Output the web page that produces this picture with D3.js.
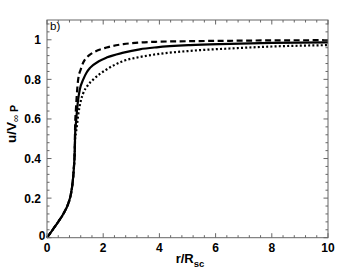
<!DOCTYPE html>
<html><head><meta charset="utf-8">
<script src="https://cdn.jsdelivr.net/npm/d3@7"></script>
<style>body{margin:0;background:#fff;} svg{display:block;}</style>
</head><body>
<script>
// r/R_sc values
const rSolid   = [0, 0.2, 0.4, 0.6, 0.75, 0.85, 0.92, 0.96, 0.99, 1.0, 1.03, 1.06, 1.11, 1.17, 1.29, 1.41, 1.53, 1.83, 2.12, 2.72, 3.3, 3.9, 5.09, 6.5, 8, 10];
const uSolid   = [0, 0.04, 0.08, 0.125, 0.17, 0.22, 0.29, 0.36, 0.45, 0.52, 0.58, 0.63, 0.7, 0.75, 0.8, 0.835, 0.858, 0.89, 0.91, 0.935, 0.952, 0.962, 0.973, 0.979, 0.984, 0.987];
const rDashed  = [0, 0.2, 0.4, 0.6, 0.75, 0.85, 0.92, 0.96, 0.99, 1.0, 1.03, 1.06, 1.11, 1.2, 1.29, 1.41, 1.53, 1.65, 2.12, 2.72, 3.3, 3.9, 5.09, 6.5, 8, 10];
const uDashed  = [0, 0.04, 0.08, 0.125, 0.17, 0.22, 0.29, 0.36, 0.46, 0.56, 0.65, 0.72, 0.8, 0.85, 0.885, 0.91, 0.925, 0.936, 0.961, 0.978, 0.986, 0.99, 0.993, 0.995, 0.997, 0.998];
const rDotted  = [0, 0.2, 0.4, 0.6, 0.75, 0.85, 0.92, 0.96, 0.99, 1.0, 1.03, 1.06, 1.11, 1.2, 1.29, 1.45, 1.65, 2.12, 2.72, 3.3, 3.9, 5.09, 6.5, 8, 10];
const uDotted  = [0, 0.04, 0.08, 0.125, 0.17, 0.22, 0.29, 0.36, 0.44, 0.5, 0.53, 0.56, 0.62, 0.69, 0.73, 0.77, 0.80, 0.85, 0.893, 0.913, 0.927, 0.944, 0.956, 0.966, 0.973];
const xTicks = [0, 2, 4, 6, 8, 10];
const yTicks = [0, 0.2, 0.4, 0.6, 0.8, 1];
const yTickLabels = ["0", "0.2", "0.4", "0.6", "0.8", "1"];

const W = 363, H = 273;
const m = {left: 47, right: 35, top: 20, bottom: 35.3};
const svg = d3.select("body").append("svg").attr("width", W).attr("height", H);
const x = d3.scaleLinear().domain([0, 10]).range([m.left, W - m.right]);
const y = d3.scaleLinear().domain([0, 1.1]).range([H - m.bottom, m.top]);
const font = "Liberation Sans, Arial, Helvetica, sans-serif";

const line = d3.line().x(d => x(d[0])).y(d => y(d[1])).curve(d3.curveMonotoneX);
const series = [
  {r: rSolid, u: uSolid, dash: null},
  {r: rDashed, u: uDashed, dash: "6,3.5"},
  {r: rDotted, u: uDotted, dash: "2,2.2"}
];
series.forEach(s => {
  svg.append("path").datum(s.r.map((v, i) => [v, s.u[i]]))
    .attr("d", line).attr("fill", "none").attr("stroke", "#000")
    .attr("stroke-width", 2.2).attr("stroke-dasharray", s.dash);
});

// frame
const frameColor = "#666";
svg.append("rect").attr("x", x(0)).attr("y", y(1.1)).attr("width", x(10) - x(0)).attr("height", y(0) - y(1.1))
  .attr("fill", "none").attr("stroke", frameColor).attr("stroke-width", 1);

const xMinor = d3.range(0, 10.001, 0.4);
const yMinor = d3.range(0, 1.1001, 0.04);
const g = svg.append("g").attr("stroke", frameColor).attr("stroke-width", 1);
xMinor.forEach(v => {
  const major = xTicks.some(t => Math.abs(t - v) < 1e-6);
  const L = major ? 4.5 : 2.5;
  g.append("line").attr("x1", x(v)).attr("x2", x(v)).attr("y1", y(0)).attr("y2", y(0) - L);
  g.append("line").attr("x1", x(v)).attr("x2", x(v)).attr("y1", y(1.1)).attr("y2", y(1.1) + L);
});
yMinor.forEach(v => {
  const major = yTicks.some(t => Math.abs(t - v) < 1e-6);
  const L = major ? 4.5 : 2.5;
  g.append("line").attr("y1", y(v)).attr("y2", y(v)).attr("x1", x(0)).attr("x2", x(0) + L);
  g.append("line").attr("y1", y(v)).attr("y2", y(v)).attr("x1", x(10)).attr("x2", x(10) - L);
});

// tick labels
svg.selectAll(".xl").data(xTicks).enter().append("text")
  .attr("x", d => x(d)).attr("y", y(0) + 14).attr("text-anchor", "middle")
  .attr("font-family", font).attr("font-weight", "bold").attr("font-size", 12).text(d => d);
svg.selectAll(".yl").data(yTicks).enter().append("text")
  .attr("x", (d, i) => i === 0 ? x(0) - 1.5 : x(0) - 6).attr("y", (d, i) => i === 0 ? y(d) + 2.5 : y(d) + 4.5).attr("text-anchor", "end")
  .attr("font-family", font).attr("font-weight", "bold").attr("font-size", 12).text((d, i) => yTickLabels[i]);

// x axis title
const xt = svg.append("text").attr("x", 190).attr("y", 263).attr("text-anchor", "middle")
  .attr("font-family", font).attr("font-weight", "bold").attr("font-size", 13);
xt.append("tspan").text("r/R");
xt.append("tspan").attr("font-size", 9.5).attr("dy", 4).text("sc");

// y axis title
const yt = svg.append("text").attr("transform", "translate(16," + 124 + ") rotate(-90)").attr("text-anchor", "middle")
  .attr("font-family", font).attr("font-weight", "bold").attr("font-size", 13.5);
yt.append("tspan").text("u/V");
yt.append("tspan").attr("font-size", 10).attr("font-weight", "normal").attr("dy", 3).text("∞");
yt.append("tspan").attr("font-size", 10.5).attr("dy", -1).text(" P");

// panel label
svg.append("text").attr("x", x(0) + 3).attr("y", y(1.1) + 10).attr("font-family", font)
  .attr("font-size", 11.5).text("b)");
</script>
</body></html>
